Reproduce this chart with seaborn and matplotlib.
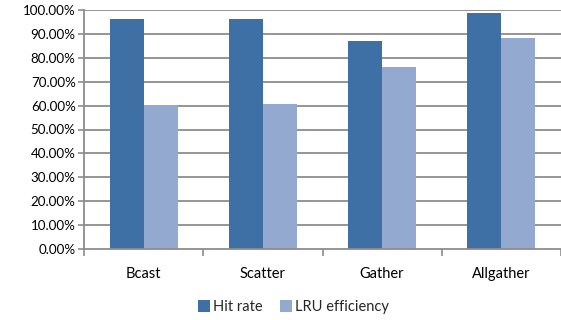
import numpy as np
import pandas as pd
import matplotlib
matplotlib.use("Agg")
import matplotlib.pyplot as plt
import seaborn as sns
from matplotlib.ticker import FuncFormatter, FixedLocator

categories = ["Bcast", "Scatter", "Gather", "Allgather"]
hit_rate = [96.1, 96.1, 87.0, 98.9]
lru_efficiency = [60.1, 60.7, 76.2, 88.2]
series_names = ["Hit rate", "LRU efficiency"]
yticks = np.arange(0, 101, 10)

df = pd.DataFrame({
    "category": categories * 2,
    "series": [series_names[0]] * 4 + [series_names[1]] * 4,
    "value": hit_rate + lru_efficiency,
})

sns.set_theme(style="white")
plt.rcParams["font.family"] = ["Lato", "DejaVu Sans"]

W, H = 561, 320
fig = plt.figure(figsize=(W / 100, H / 100), dpi=100)
ax = fig.add_axes([84 / W, 71 / H, 477 / W, 239 / H])

palette = {"Hit rate": "#3E70A5", "LRU efficiency": "#93A9CF"}
sns.barplot(data=df, x="category", y="value", hue="series", order=categories,
            hue_order=series_names, palette=palette, width=0.57, gap=0,
            saturation=1, linewidth=0, ax=ax, legend=True)

grid_c = "#8C8C8C"
ax.set_ylim(0, 100)
ax.set_xlim(-0.5, 3.5)
ax.set_yticks(yticks)
ax.yaxis.set_major_formatter(FuncFormatter(lambda v, p: f"{v:.2f}%"))
for y in yticks[1:]:
    ax.axhline(y, color=grid_c, lw=1.3, zorder=0)
ax.set_axisbelow(True)

for s in ["top", "right"]:
    ax.spines[s].set_visible(False)
for s in ["left", "bottom"]:
    ax.spines[s].set_color(grid_c)
    ax.spines[s].set_linewidth(1.3)

ax.tick_params(axis="y", left=True, length=4, width=1.2, color=grid_c,
               labelsize=9.6, labelcolor="#000000", pad=2)
ax.tick_params(axis="x", which="major", length=0, labelsize=10.5,
               labelcolor="#000000", pad=13)
ax.xaxis.set_minor_locator(FixedLocator([-0.5, 0.5, 1.5, 2.5, 3.5]))
ax.tick_params(axis="x", which="minor", bottom=True, length=5, width=1.2,
               color=grid_c)
ax.set_xlabel("")
ax.set_ylabel("")

handles, labels = ax.get_legend_handles_labels()
ax.get_legend().remove()
fig.legend(handles, labels, loc="center", bbox_to_anchor=(293 / W, 1 - 307 / H),
           ncol=2, frameon=False, fontsize=10.5, handlelength=0.82,
           handleheight=0.82, handletextpad=0.2, columnspacing=1.2)

fig.savefig("out.png", dpi=100)
